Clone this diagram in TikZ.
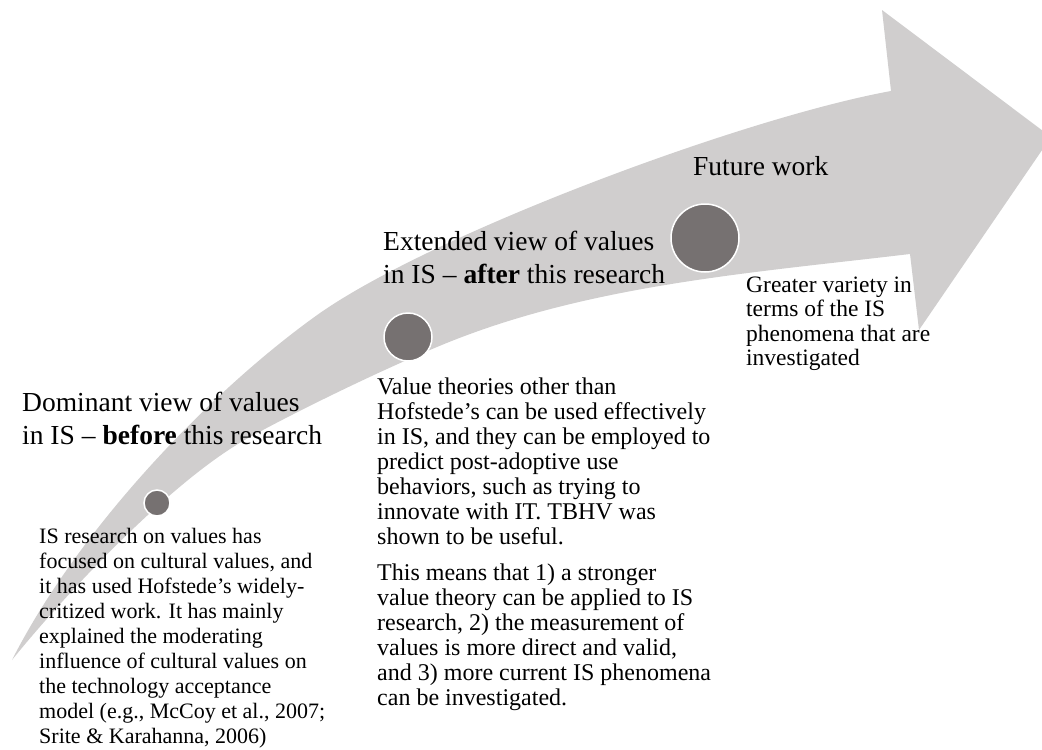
\documentclass[tikz,border=0pt]{standalone}
\usepackage{fontspec}
\setmainfont{Liberation Serif}
\definecolor{band}{HTML}{D0CECE}
\definecolor{dot}{HTML}{767171}
\newcommand{\stack}[1]{\begin{tabular}[t]{@{}l@{}}#1\end{tabular}}
\begin{document}
\begin{tikzpicture}[x=1pt,y=-1pt,
  headtext/.style={anchor=base west, inner sep=0pt, font=\fontsize{27.5}{33.3}\selectfont},
  bodytext/.style={anchor=base west, inner sep=0pt, font=\fontsize{24}{25}\selectfont},
  milestone/.style={circle, fill=dot, draw=white, line width=1.5pt, inner sep=0pt}]
\useasboundingbox (0,0) rectangle (1042,750);
% curved timeline arrow
\begin{scope}
\clip (0,0) rectangle (1042,750);
\fill[band] (12,660) .. controls (80,526) and (214,388) .. (320,313)
  .. controls (435,233) and (743,118) .. (891,91)
  -- (882,10) -- (1051,137) -- (919,330) -- (910,254)
  .. controls (751,273) and (584,285) .. (437,347)
  .. controls (382,370) and (303,408) .. (250,437)
  .. controls (171,480) and (62,598) .. (12,660) -- cycle;
\end{scope}
% milestones
\node[milestone, minimum size=26pt] (m1) at (157,503) {};
\node[milestone, minimum size=48pt] (m2) at (408,337) {};
\node[milestone, minimum size=68pt] (m3) at (705,238) {};
% stage titles
\node[headtext] (h1) at (22,411) {\stack{Dominant view of values\\in IS -- \textbf{before} this research}};
\node[headtext] (h2) at (383,250) {\stack{Extended view of values\\in IS -- \textbf{after} this research}};
\node[headtext] (h3) at (693,175) {Future work};
% stage descriptions
\node[bodytext, font=\fontsize{22}{25}\selectfont] (b1) at (39,543) {\stack{IS research on values has\\focused on cultural values, and\\it has used Hofstede’s widely-\\critized work. It has mainly\\explained the moderating\\influence of cultural values on\\the technology acceptance\\model (e.g., McCoy et al., 2007;\\Srite \& Karahanna, 2006)}};
\node[bodytext] (b2) at (377,394) {\stack{Value theories other than\\Hofstede’s can be used effectively\\in IS, and they can be employed to\\predict post-adoptive use\\behaviors, such as trying to\\innovate with IT. TBHV was\\shown to be useful.}};
\node[bodytext] (b3) at (377,580) {\stack{This means that 1) a stronger\\value theory can be applied to IS\\research, 2) the measurement of\\values is more direct and valid,\\and 3) more current IS phenomena\\can be investigated.}};
\node[bodytext, font=\fontsize{23.5}{24.5}\selectfont] (b4) at (746,292) {\stack{Greater variety in\\terms of the IS\\phenomena that are\\investigated}};
\end{tikzpicture}
\end{document}
